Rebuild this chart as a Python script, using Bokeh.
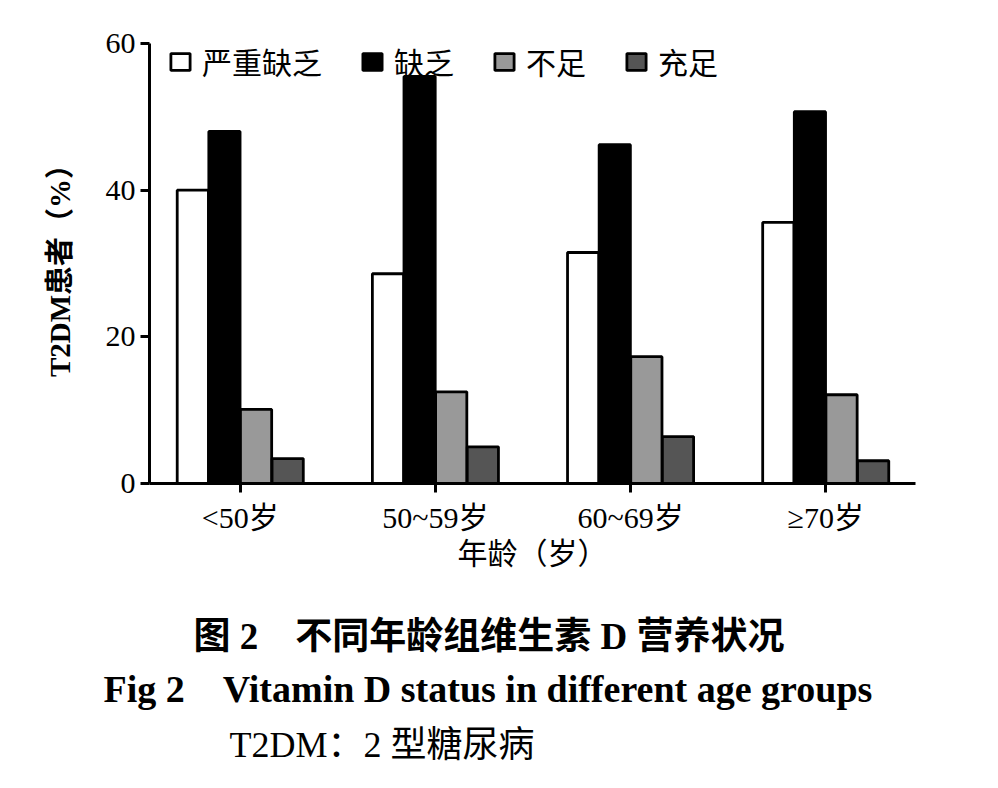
from bokeh.plotting import figure
from bokeh.models import FixedTicker, Legend, LegendItem, Title, ColumnDataSource, Range1d
from bokeh.transform import dodge
from bokeh.embed import file_html
from bokeh.resources import INLINE

# ---- data ----
groups = ["<50岁", "50~59岁", "60~69岁", "≥70岁"]
series_names = ["严重缺乏", "缺乏", "不足", "充足"]
severe = [40.0, 28.6, 31.5, 35.6]
deficient = [48.0, 55.5, 46.2, 50.7]
insufficient = [10.1, 12.5, 17.3, 12.1]
sufficient = [3.4, 5.0, 6.4, 3.1]
y_ticks = [0, 20, 40, 60]

y_title = "T2DM患者（%）"
x_title = "年龄（岁）"
caption_cn = "图 2　不同年龄组维生素 D 营养状况"
caption_en = "Fig 2　Vitamin D status in different age groups"
caption_note = "T2DM：2 型糖尿病"

colors = ["#ffffff", "#000000", "#999999", "#555555"]
offsets = [-0.243, -0.081, 0.081, 0.243]
bar_w = 0.16

FONT = "Liberation Serif, Noto Sans CJK SC"

xs = list(range(len(groups)))
source = ColumnDataSource(dict(x=xs, s0=severe, s1=deficient, s2=insufficient, s3=sufficient))

p = figure(width=982, height=780, output_backend="svg", toolbar_location=None,
           x_range=Range1d(-0.465, 3.46), y_range=Range1d(0, 60),
           min_border_left=149, min_border_top=43, min_border_right=67, min_border_bottom=297)
p.outline_line_color = None
p.xgrid.visible = False
p.ygrid.visible = False
p.background_fill_color = "white"
p.border_fill_color = "white"

renderers = []
for i, col in enumerate(["s0", "s1", "s2", "s3"]):
    r = p.vbar(x=dodge("x", offsets[i], range=p.x_range), top=col, width=bar_w, bottom=0,
               source=source, fill_color=colors[i], line_color="black", line_width=2.8)
    renderers.append(r)

# axes
for ax in (p.xaxis[0], p.yaxis[0]):
    ax.axis_line_width = 3
    ax.axis_line_color = "black"
    ax.major_tick_line_width = 3
    ax.major_tick_line_color = "black"
    ax.major_tick_in = 0
    ax.major_tick_out = 9
    ax.minor_tick_line_color = None
    ax.major_label_text_font = FONT
    ax.major_label_text_font_size = "30px"
    ax.major_label_text_color = "black"
    ax.axis_label_text_font = FONT
    ax.axis_label_text_color = "black"

p.yaxis.ticker = FixedTicker(ticks=y_ticks)
p.yaxis.major_label_standoff = 5
p.yaxis.axis_label = y_title
p.yaxis.axis_label_text_font_size = "29px"
p.yaxis.axis_label_text_font_style = "bold"
p.yaxis.axis_label_standoff = 27

p.xaxis.ticker = FixedTicker(ticks=xs)
p.xaxis.major_label_overrides = {i: g for i, g in enumerate(groups)}
p.xaxis.major_label_standoff = 8
p.xaxis.axis_label = x_title
p.xaxis.axis_label_text_font_size = "30px"
p.xaxis.axis_label_text_font_style = "normal"
p.xaxis.axis_label_standoff = 0

legend = Legend(items=[LegendItem(label=n, renderers=[r]) for n, r in zip(series_names, renderers)],
                orientation="horizontal", location=(19, 400),
                glyph_width=24, glyph_height=21, label_standoff=10, spacing=38,
                padding=0, margin=0, border_line_color=None, background_fill_alpha=0,
                label_text_font=FONT, label_text_font_size="30px", label_text_color="black")
p.add_layout(legend, "center")

# spacer between the axis and the captions
p.add_layout(Title(text=" ", text_font_size="1px", standoff=38), "below")
# captions below the chart
for text, off, size, style, stand in [(caption_cn, 44, "37px", "bold", 0),
                                      (caption_en, -46, "38px", "bold", 19),
                                      (caption_note, 80, "36px", "normal", 6)]:
    p.add_layout(Title(text=text, align="left", offset=off, standoff=stand,
                       text_font=FONT, text_font_size=size, text_font_style=style,
                       text_color="black"), "below")

open("out.html", "w").write(file_html(p, INLINE))
